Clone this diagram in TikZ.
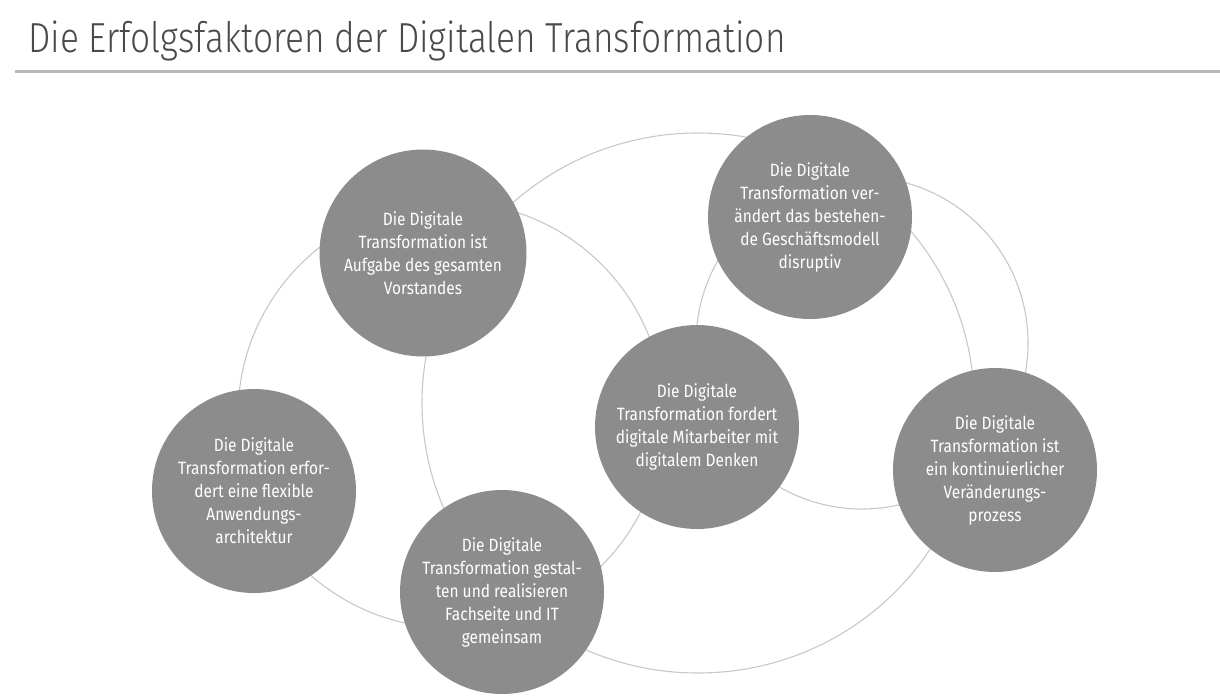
\documentclass[tikz,border=0pt]{standalone}
\usepackage{fontspec}
\setmainfont{Fira Sans}
\newfontfamily\circfont{Fira Sans}[FakeStretch=0.87]
\IfFontExistsTF{Fira Sans Light}{\newfontfamily\titlefont{Fira Sans Light}[FakeStretch=0.84]}{\newfontfamily\titlefont{Fira Sans}[FakeStretch=0.84]}
\definecolor{discgray}{HTML}{8C8C8C}
\definecolor{ringgray}{HTML}{C8C8C8}
\definecolor{titlegray}{HTML}{4A4A4A}
\definecolor{rulegray}{HTML}{B8B8B8}
\begin{document}
\begin{tikzpicture}[x=1pt,y=-1pt,
  disc/.style={circle, fill=discgray, draw=none, minimum size=204pt, inner sep=0pt,
    text=white, align=center, font=\circfont\fontsize{17.8}{23}\selectfont},
  ring/.style={draw=ringgray, line width=1.1pt},
  titletext/.style={anchor=base west, inner sep=0pt, text=titlegray,
    font=\titlefont\fontsize{42}{48}\selectfont},
  titlerule/.style={draw=rulegray, line width=3pt}
]
\useasboundingbox (0,0) rectangle (1220,699);
\fill[white] (0,0) rectangle (1220,699);

\node[titletext] (title) at (28,52) {Die Erfolgsfaktoren der Digitalen Transformation};
\coordinate (ruleL) at (15,71);
\coordinate (ruleR) at (1220,71);
\draw[titlerule] (ruleL) -- (ruleR);

% background rings
\coordinate (ringA) at (698,403);
\coordinate (ringB) at (451,415);
\coordinate (ringC) at (862,343);
\draw[ring] (ringA) ellipse [x radius=276pt, y radius=270pt];
\draw[ring] (ringB) circle [radius=213pt];
\draw[ring] (ringC) circle [radius=166pt];

% discs
\node[disc] (A) at (423,253) {\raisebox{5pt}{\parbox{190pt}{\centering Die Digitale\\Transformation ist\\Aufgabe des gesamten\\Vorstandes}}};
\node[disc] (B) at (810,217) {Die Digitale\\Transformation ver-\\ändert das bestehen-\\de Geschäftsmodell\\disruptiv};
\node[disc] (C) at (697,427) {Die Digitale\\Transformation fordert\\digitale Mitarbeiter mit\\digitalem Denken};
\node[disc] (D) at (995,470) {Die Digitale\\Transformation ist\\ein kontinuierlicher\\Veränderungs-\\prozess};
\node[disc] (E) at (254,491) {Die Digitale\\Transformation erfor-\\dert eine flexible\\Anwendungs-\\architektur};
\node[disc] (F) at (502,592) {Die Digitale\\Transformation gestal-\\ten und realisieren\\Fachseite und IT\\gemeinsam};
\end{tikzpicture}
\end{document}
